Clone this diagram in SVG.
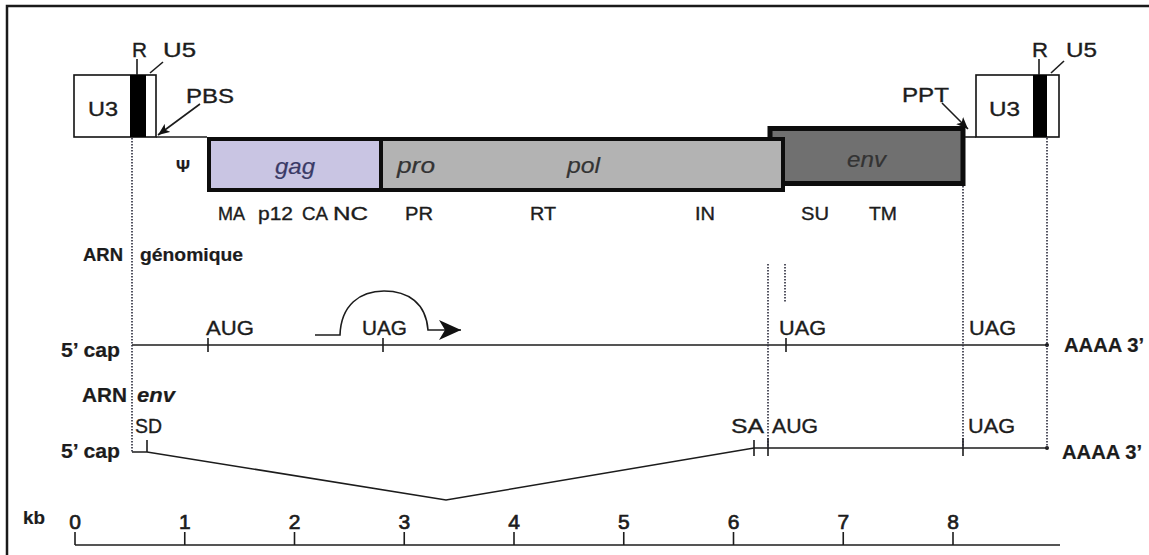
<svg xmlns="http://www.w3.org/2000/svg" width="1149" height="555" viewBox="0 0 1149 555">
<style>
  text { font-family: "Liberation Sans", Arial, sans-serif; fill: #1c1c1c; stroke: #1c1c1c; stroke-width: 0.35; }
  .t20 { font-size: 20px; }
  .t19 { font-size: 19px; }
  .t18 { font-size: 18px; }
  .num { font-size: 21px; text-anchor: middle; stroke-width: 0.7; }
  .b { font-weight: bold; stroke-width: 0.2; }
  .it { font-style: italic; font-size: 22px; fill: #333; stroke: #333; stroke-width: 0.2; }
  .box { stroke: #111; stroke-width: 1.6; fill: #fff; }
  .gene { stroke: #0d0d0d; stroke-width: 4; }
  .line { stroke: #1c1c1c; stroke-width: 1.6; fill: none; }
  .dot { stroke: #2a2a3a; stroke-width: 1.6; stroke-dasharray: 1.6 1.4; fill: none; }
  .tick { stroke: #1c1c1c; stroke-width: 1.6; }
</style>
<defs>
  <marker id="arr" viewBox="0 0 12 10" refX="12" refY="5" markerWidth="12" markerHeight="10" markerUnits="userSpaceOnUse" orient="auto">
    <path d="M0,0 L12,5 L0,10 L3,5 z" fill="#111"/>
  </marker>
  <marker id="arrBig" viewBox="0 0 22 20" refX="22" refY="10" markerWidth="22" markerHeight="20" markerUnits="userSpaceOnUse" orient="auto">
    <path d="M0,0 L22,10 L0,20 L6,10 z" fill="#111"/>
  </marker>
</defs>
<rect width="1149" height="555" fill="#fff"/>
<path d="M7,555 V6 H1149" stroke="#1a1a1a" stroke-width="2.5" fill="none"/>

<g id="ltr5">
  <rect class="box" x="74" y="75" width="82" height="62"/>
  <rect x="130" y="75" width="16" height="62" fill="#000"/>
  <text class="t20" x="88" y="116" textLength="30" lengthAdjust="spacingAndGlyphs">U3</text>
  <text class="t20" x="132" y="57" textLength="15" lengthAdjust="spacingAndGlyphs">R</text>
  <text class="t20" x="163" y="57" textLength="33" lengthAdjust="spacingAndGlyphs">U5</text>
  <line class="tick" x1="137" y1="59" x2="137" y2="75"/>
  <line class="tick" x1="150" y1="73" x2="163" y2="62"/>
  <text class="t20" x="186" y="103" textLength="48" lengthAdjust="spacingAndGlyphs">PBS</text>
</g>

<g id="ltr3">
  <rect class="box" x="976" y="75" width="83" height="62"/>
  <rect x="1033" y="75" width="14" height="62" fill="#000"/>
  <text class="t20" x="989" y="116" textLength="31" lengthAdjust="spacingAndGlyphs">U3</text>
  <text class="t20" x="1032" y="57" textLength="16" lengthAdjust="spacingAndGlyphs">R</text>
  <text class="t20" x="1066" y="57" textLength="31" lengthAdjust="spacingAndGlyphs">U5</text>
  <line class="tick" x1="1039" y1="59" x2="1039" y2="75"/>
  <line class="tick" x1="1051" y1="73" x2="1064" y2="61"/>
  <text class="t20" x="902" y="102" textLength="47" lengthAdjust="spacingAndGlyphs">PPT</text>
</g>

<g id="env">
  <rect x="770" y="128.5" width="193" height="55" fill="#707070" stroke="#0d0d0d" stroke-width="5"/>
  <text class="it" x="847" y="167" textLength="39" lengthAdjust="spacingAndGlyphs">env</text>
</g>
<g id="gag">
  <rect class="gene" x="209" y="139" width="172" height="51" fill="#c9c5e3"/>
  <text class="it" x="275" y="174" textLength="40" lengthAdjust="spacingAndGlyphs" style="fill:#3a3a66;stroke:#3a3a66">gag</text>
</g>
<g id="pol">
  <rect class="gene" x="381" y="139" width="402" height="51" fill="#b3b3b3"/>
  <text class="it" x="397" y="173" textLength="38" lengthAdjust="spacingAndGlyphs">pro</text>
  <text class="it" x="567" y="173" textLength="33" lengthAdjust="spacingAndGlyphs">pol</text>
</g>
<g id="psi">
  <text x="176" y="172" class="b" style="font-size:17px" textLength="14" lengthAdjust="spacingAndGlyphs">Ψ</text>
</g>

<g id="proteins" class="t18">
  <text x="218" y="220" textLength="27" lengthAdjust="spacingAndGlyphs">MA</text>
  <text x="258" y="220" textLength="35" lengthAdjust="spacingAndGlyphs">p12</text>
  <text x="302" y="220" textLength="26" lengthAdjust="spacingAndGlyphs">CA</text>
  <text x="333" y="220" textLength="35" lengthAdjust="spacingAndGlyphs">NC</text>
  <text x="405" y="220" textLength="28" lengthAdjust="spacingAndGlyphs">PR</text>
  <text x="530" y="220" textLength="26" lengthAdjust="spacingAndGlyphs">RT</text>
  <text x="695" y="220" textLength="20" lengthAdjust="spacingAndGlyphs">IN</text>
  <text x="801" y="220" textLength="28" lengthAdjust="spacingAndGlyphs">SU</text>
  <text x="869" y="220" textLength="28" lengthAdjust="spacingAndGlyphs">TM</text>
</g>

<g id="rna-genomique">
  <text class="t19 b" x="83" y="261" textLength="40" lengthAdjust="spacingAndGlyphs">ARN</text>
  <text class="t19 b" x="140" y="261" textLength="103" lengthAdjust="spacingAndGlyphs">génomique</text>
  <text class="t20 b" x="61" y="357" textLength="59" lengthAdjust="spacingAndGlyphs">5’ cap</text>
  <line class="line" x1="132" y1="345" x2="1047" y2="345"/>
  <circle cx="1047" cy="345" r="2" fill="#1c1c1c"/>
  <line class="tick" x1="208" y1="338" x2="208" y2="352"/>
  <line class="tick" x1="383" y1="338" x2="383" y2="352"/>
  <line class="tick" x1="786" y1="338" x2="786" y2="352"/>
  <text class="t20" x="206" y="335" textLength="48" lengthAdjust="spacingAndGlyphs">AUG</text>
  <text class="t20" x="362" y="335" textLength="45" lengthAdjust="spacingAndGlyphs">UAG</text>
  <text class="t20" x="779" y="335" textLength="47" lengthAdjust="spacingAndGlyphs">UAG</text>
  <text class="t20" x="969" y="335" textLength="47" lengthAdjust="spacingAndGlyphs">UAG</text>
  <text class="t20 b" x="1064" y="352" textLength="80" lengthAdjust="spacingAndGlyphs">AAAA 3’</text>
</g>

<g id="rna-env">
  <text class="t20 b" x="82" y="402" textLength="45" lengthAdjust="spacingAndGlyphs">ARN</text>
  <text class="t20 b" x="137" y="402" textLength="38" lengthAdjust="spacingAndGlyphs" style="font-style:italic">env</text>
  <text class="t20" x="135" y="433" textLength="27" lengthAdjust="spacingAndGlyphs">SD</text>
  <text class="t20" x="731" y="433" textLength="33" lengthAdjust="spacingAndGlyphs">SA</text>
  <text class="t20" x="772" y="433" textLength="46" lengthAdjust="spacingAndGlyphs">AUG</text>
  <text class="t20" x="968" y="433" textLength="47" lengthAdjust="spacingAndGlyphs">UAG</text>
  <text class="t20 b" x="61" y="458" textLength="59" lengthAdjust="spacingAndGlyphs">5’ cap</text>
  <text class="t20 b" x="1062" y="459" textLength="80" lengthAdjust="spacingAndGlyphs">AAAA 3’</text>
  <path class="line" d="M132,452 H147 L446,500 L754,448 H1047"/>
  <circle cx="1047" cy="448" r="2" fill="#1c1c1c"/>
  <line class="tick" x1="147" y1="440" x2="147" y2="452"/>
  <line class="tick" x1="754" y1="440" x2="754" y2="456"/>
  <line class="tick" x1="768" y1="438" x2="768" y2="456"/>
  <line class="tick" x1="963" y1="438" x2="963" y2="456"/>
</g>

<g id="scale">
  <text class="t19 b" x="23" y="524" textLength="22" lengthAdjust="spacingAndGlyphs">kb</text>
  <line class="line" x1="75" y1="545" x2="1060" y2="545"/>
  <g class="tick">
    <line x1="75" y1="532" x2="75" y2="545"/>
    <line x1="184.75" y1="532" x2="184.75" y2="545"/>
    <line x1="294.5" y1="532" x2="294.5" y2="545"/>
    <line x1="404.25" y1="532" x2="404.25" y2="545"/>
    <line x1="514" y1="532" x2="514" y2="545"/>
    <line x1="623.75" y1="532" x2="623.75" y2="545"/>
    <line x1="733.5" y1="532" x2="733.5" y2="545"/>
    <line x1="843.25" y1="532" x2="843.25" y2="545"/>
    <line x1="953" y1="532" x2="953" y2="545"/>
  </g>
  <text class="num" x="75" y="529">0</text>
  <text class="num" x="184.75" y="529">1</text>
  <text class="num" x="294.5" y="529">2</text>
  <text class="num" x="404.25" y="529">3</text>
  <text class="num" x="514" y="529">4</text>
  <text class="num" x="623.75" y="529">5</text>
  <text class="num" x="733.5" y="529">6</text>
  <text class="num" x="843.25" y="529">7</text>
  <text class="num" x="953" y="529">8</text>
</g>

<g id="connectors">
  <path class="line" d="M156,137 H207"/>
  <path class="line" d="M965,137 H976"/>
  <line class="line" x1="200" y1="104" x2="158" y2="135" marker-end="url(#arr)"/>
  <line class="line" x1="942" y1="103" x2="968" y2="129" marker-end="url(#arr)"/>
  <line class="dot" x1="132" y1="138" x2="132" y2="452"/>
  <line class="dot" x1="963" y1="186" x2="963" y2="448"/>
  <line class="dot" x1="1047" y1="138" x2="1047" y2="448"/>
  <line class="dot" x1="768" y1="264" x2="768" y2="448"/>
  <line class="dot" x1="785" y1="264" x2="785" y2="303"/>
  <path class="line" d="M315,335 H340 C341,305 360,291 384,291 C408,291 426,303 428,330 H461" marker-end="url(#arrBig)"/>
</g>
</svg>
